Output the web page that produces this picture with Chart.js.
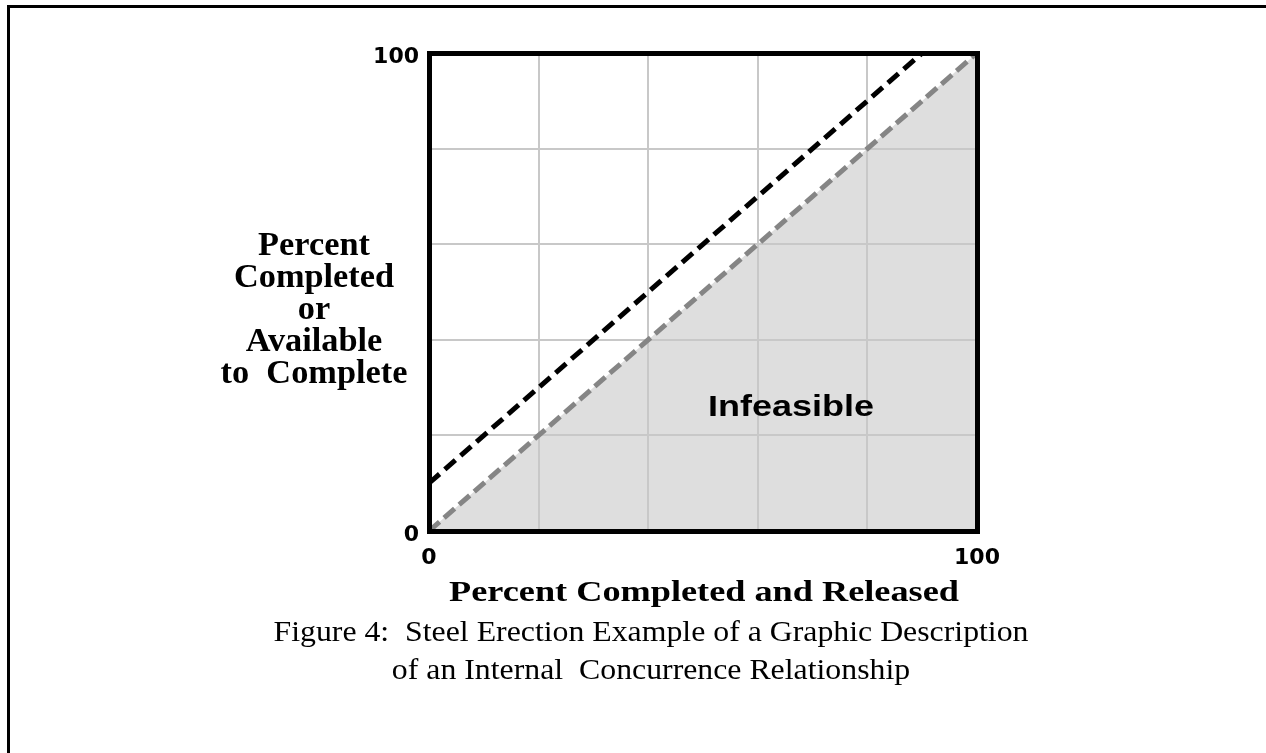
<!DOCTYPE html>
<html>
<head>
<meta charset="utf-8">
<script src="https://cdn.jsdelivr.net/npm/chart.js@4/dist/chart.umd.min.js"></script>
<style>
  html, body { margin: 0; padding: 0; background: #ffffff; }
  #wrap { position: relative; width: 1266px; height: 753px; }
</style>
</head>
<body>
<div id="wrap"><canvas id="c"></canvas></div>
<script>
// ---- data ----
const boundaryX = [0, 100];          // feasibility boundary (grey dashed)
const boundaryY = [0, 100];
const concurrenceX = [0, 90];        // concurrence relationship (black dashed)
const concurrenceY = [10, 100];
const tickValues = [0, 20, 40, 60, 80, 100];
const labeledTicks = [0, 100];
const yTitleLines = ['Percent', 'Completed', 'or', 'Available', 'to  Complete'];
const xTitle = 'Percent Completed and Released';
const regionLabel = 'Infeasible';
const captionLines = ['Figure 4:  Steel Erection Example of a Graphic Description',
                      'of an Internal  Concurrence Relationship'];

const toPoints = (xs, ys) => xs.map((x, i) => ({ x: x, y: ys[i] }));

function drawStretched(ctx, text, x, y, sx, align) {
  ctx.save();
  ctx.translate(x, y);
  ctx.scale(sx, 1);
  ctx.textAlign = align;
  ctx.textBaseline = 'alphabetic';
  ctx.fillText(text, 0, 0);
  ctx.restore();
}

const textPlugin = {
  id: 'texts',
  afterDraw(chart) {
    const ctx = chart.ctx;
    ctx.save();
    ctx.fillStyle = '#000';
    // page frame
    ctx.fillRect(7, 5, 1266, 3);
    ctx.fillRect(7, 5, 3, 753);
    // y title (horizontal, stacked)
    ctx.font = 'bold 33px "Liberation Serif", "Times New Roman", serif';
    const yBase = [255, 287, 319, 351, 383];
    yTitleLines.forEach((t, i) => drawStretched(ctx, t, 314, yBase[i], 1.04, 'center'));
    // region label
    ctx.font = 'bold 30px "Liberation Sans", Arial, sans-serif';
    drawStretched(ctx, regionLabel, 708, 416, 1.2, 'left');
    // x title
    ctx.font = 'bold 29px "Liberation Serif", "Times New Roman", serif';
    drawStretched(ctx, xTitle, 704, 601, 1.25, 'center');
    // caption
    ctx.font = '30px "Liberation Serif", "Times New Roman", serif';
    drawStretched(ctx, captionLines[0], 651, 641, 1.06, 'center');
    drawStretched(ctx, captionLines[1], 651, 679, 1.06, 'center');
    ctx.restore();
  }
};

const tickFont = { family: '"DejaVu Sans", sans-serif', size: 22, weight: 'bold' };
const tickCb = (v) => labeledTicks.includes(v) ? String(v) : '';
const fixTicks = (axis) => { axis.ticks = tickValues.map(v => ({ value: v })); };

new Chart(document.getElementById('c'), {
  type: 'line',
  data: {
    datasets: [
      {
        label: 'Concurrence',
        data: toPoints(concurrenceX, concurrenceY),
        borderColor: '#000000',
        borderWidth: 5,
        borderDash: [14, 7],
        pointRadius: 0,
        fill: false,
        order: 0
      },
      {
        label: 'Boundary',
        data: toPoints(boundaryX, boundaryY),
        borderColor: '#858585',
        borderWidth: 5,
        borderDash: [14, 6],
        pointRadius: 0,
        fill: 'start',
        backgroundColor: '#dedede',
        order: 1
      }
    ]
  },
  options: {
    responsive: true,
    maintainAspectRatio: false,
    devicePixelRatio: 1,
    animation: false,
    events: [],
    layout: { padding: 0 },
    plugins: {
      legend: { display: false },
      tooltip: { enabled: false },
      filler: { drawTime: 'beforeDraw' }
    },
    scales: {
      x: {
        type: 'linear', position: 'bottom', min: 0, max: 100,
        afterBuildTicks: fixTicks,
        afterFit: (s) => { s.height = 222; },
        grid: { color: '#c8c8c8', lineWidth: 2, drawTicks: false, z: 0 },
        border: { display: true, color: '#000', width: 5, z: 1 },
        ticks: { callback: tickCb, font: tickFont, color: '#000', padding: 14, maxRotation: 0, autoSkip: false }
      },
      y: {
        type: 'linear', position: 'left', min: 0, max: 100,
        afterBuildTicks: fixTicks,
        afterFit: (s) => { s.width = 429; },
        grid: { color: '#c8c8c8', lineWidth: 2, drawTicks: false, z: 0 },
        border: { display: true, color: '#000', width: 5, z: 1 },
        ticks: { callback: tickCb, font: tickFont, color: '#000', padding: 10, labelOffset: 4, autoSkip: false }
      },
      x2: {
        type: 'linear', position: 'top', min: 0, max: 100,
        afterFit: (s) => { s.height = 53; },
        grid: { display: false, lineWidth: 5 },
        border: { display: true, color: '#000', width: 5, z: 1 },
        ticks: { display: false }
      },
      y2: {
        type: 'linear', position: 'right', min: 0, max: 100,
        afterFit: (s) => { s.width = 289; },
        grid: { display: false, lineWidth: 5 },
        border: { display: true, color: '#000', width: 5, z: 1 },
        ticks: { display: false }
      }
    }
  },
  plugins: [textPlugin]
});
</script>
</body>
</html>
